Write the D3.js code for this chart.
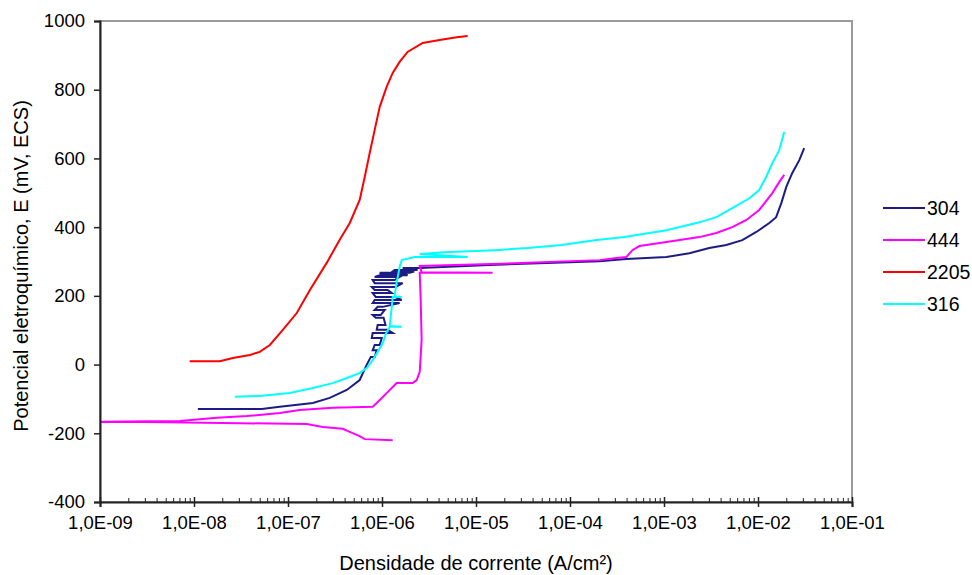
<!DOCTYPE html>
<html>
<head>
<meta charset="utf-8">
<script src="https://cdn.jsdelivr.net/npm/d3@7"></script>
<style>
  html, body { margin: 0; padding: 0; background: #ffffff; }
  svg { display: block; }
  text { font-family: "Liberation Sans", Arial, sans-serif; fill: #000; }
</style>
</head>
<body>
<svg id="chart" width="972" height="575"></svg>
<script>
// ---- DATA: [current density (A/cm²), potential (mV, ECS)] ----
const series304 = [
  [1.10e-8,-129],[5.27e-8,-129],[8.18e-8,-123],[1.84e-7,-112],[2.78e-7,-97],[4.22e-7,-74],[5.79e-7,-45],
  [6.87e-7,-1],[7.59e-7,22],[8.36e-7,22],[8.79e-7,42],[7.96e-7,42],[8.36e-7,57],[9.46e-7,57],
  [9.93e-7,77],[7.78e-7,77],[7.96e-7,92],[1.30e-6,92],[1.15e-6,101],[8.79e-7,101],[8.99e-7,115],
  [1.09e-6,115],[1.04e-6,136],[8.57e-7,136],[7.96e-7,144],[9.68e-7,144],[1.07e-6,159],[8.36e-7,159],
  [8.99e-7,168],[1.02e-6,168],[1.54e-6,179],[7.96e-7,179],[8.36e-7,188],[1.62e-6,188],[1.36e-6,197],
  [8.57e-7,197],[7.96e-7,208],[1.27e-6,208],[1.15e-6,217],[8.36e-7,217],[7.78e-7,226],[1.40e-6,226],
  [1.66e-6,237],[8.36e-7,237],[7.96e-7,246],[1.36e-6,246],[1.54e-6,255],[8.36e-7,255],[9.46e-7,260],
  [1.87e-6,260],[1.74e-6,264],[9.93e-7,264],[9.46e-7,267],[1.97e-6,267],[2.20e-6,271],[1.30e-6,271],
  [1.36e-6,275],[2.39e-6,275],[1.66e-6,281],[2.52e-6,281],
  [1.39e-5,290],[6.84e-5,296],[2.06e-4,301],[3.98e-4,307],[1.06e-3,313],[1.86e-3,324],
  [3.03e-3,339],[4.60e-3,348],[6.81e-3,362],[9.59e-3,386],[1.32e-2,412],[1.56e-2,429],[1.77e-2,470],
  [2.00e-2,517],[2.31e-2,557],[2.75e-2,595],[3.10e-2,630]
];
const series444 = [
  [1.30e-6,-220],[6.55e-7,-217],[5.79e-7,-208],[4.54e-7,-196],[3.82e-7,-187],[2.34e-7,-182],[1.58e-7,-173],
  [2.03e-8,-170],[3.16e-9,-167],[8.0e-10,-167],[3.2e-9,-165],[7.08e-9,-164],[1.75e-8,-155],[3.65e-8,-150],
  [8.18e-8,-141],[1.33e-7,-132],[2.99e-7,-126],[7.96e-7,-123],[8.79e-7,-112],[1.12e-6,-83],[1.43e-6,-54],
  [2.12e-6,-54],[2.34e-6,-45],[2.52e-6,-21],[2.64e-6,72],[2.58e-6,188],[2.52e-6,267],[1.50e-5,267],
  [2.64e-6,269],[2.52e-6,287],[3.53e-5,296],[2.06e-4,304],[3.12e-4,310],[3.98e-4,313],[4.61e-4,333],
  [5.48e-4,345],[1.06e-3,357],[2.38e-3,371],[3.61e-3,383],[5.33e-3,400],[7.52e-3,421],[1.03e-2,450],
  [1.42e-2,499],[1.68e-2,531],[1.90e-2,552]
];
const series2205 = [
  [9.0e-9,10],[1.88e-8,10],[2.59e-8,19],[3.93e-8,28],[5.01e-8,37],[6.41e-8,57],[8.81e-8,101],[1.24e-7,150],
  [1.71e-7,217],[2.58e-7,296],[3.55e-7,363],[4.54e-7,412],[5.79e-7,479],[6.55e-7,546],[7.40e-7,616],
  [8.36e-7,683],[9.46e-7,750],[1.12e-6,808],[1.30e-6,849],[1.54e-6,881],[1.87e-6,910],[2.71e-6,936],
  [4.10e-6,945],[6.22e-6,953],[8.15e-6,956]
];
const series316 = [
  [2.72e-8,-94],[5.27e-8,-91],[1.04e-7,-83],[1.84e-7,-68],[2.99e-7,-54],[4.22e-7,-39],[5.79e-7,-25],
  [6.87e-7,-10],[7.96e-7,13],[8.99e-7,37],[1.02e-6,63],[1.10e-6,90],[1.21e-6,110],[1.62e-6,110],
  [1.21e-6,112],[1.27e-6,167],[1.30e-6,197],[1.62e-6,197],[1.36e-6,199],[1.43e-6,238],[1.54e-6,284],
  [1.62e-6,304],[2.22e-6,313],[8.15e-6,313],[2.52e-6,322],[4.63e-6,327],[1.58e-5,333],[3.53e-5,339],
  [8.13e-5,348],[1.82e-4,362],[3.79e-4,371],[1.06e-3,391],[2.38e-3,414],[3.61e-3,429],[5.33e-3,455],
  [8.09e-3,484],[1.03e-2,508],[1.22e-2,546],[1.42e-2,586],[1.68e-2,624],[1.90e-2,677]
];
const seriesNames  = ["304", "444", "2205", "316"];
const seriesColors = ["#1c1c84", "#ff00ff", "#ff0000", "#00ffff"];
const yTicks = [-400, -200, 0, 200, 400, 600, 800, 1000];
const xTicks = [1e-9, 1e-8, 1e-7, 1e-6, 1e-5, 1e-4, 1e-3, 1e-2, 1e-1];
const xTickLabels = ["1,0E-09","1,0E-08","1,0E-07","1,0E-06","1,0E-05","1,0E-04","1,0E-03","1,0E-02","1,0E-01"];
const xTitle = "Densidade de corrente (A/cm²)";
const yTitle = "Potencial eletroquímico, E (mV, ECS)";

// ---- LAYOUT ----
const L = 100, R = 852, T = 21, B = 502;
const svg = d3.select("#chart");
const x = d3.scaleLog().domain([1e-9, 1e-1]).range([L, R]);
const y = d3.scaleLinear().domain([-400, 1000]).range([B, T]);

svg.append("defs").append("clipPath").attr("id", "plotclip")
  .append("rect").attr("x", L).attr("y", T).attr("width", R - L).attr("height", B - T);

// plot frame (gray, top/right)
svg.append("rect").attr("x", L).attr("y", T).attr("width", R - L).attr("height", B - T)
  .attr("fill", "none").attr("stroke", "#9a9a9a").attr("stroke-width", 2);

// series
const allSeries = [series304, series444, series2205, series316];
const line = d3.line().x(d => x(d[0])).y(d => y(d[1]));
const g = svg.append("g").attr("clip-path", "url(#plotclip)");
allSeries.forEach((s, i) => {
  g.append("path").datum(s).attr("d", line)
    .attr("fill", "none").attr("stroke", seriesColors[i]).attr("stroke-width", 2)
    .attr("stroke-linejoin", "miter");
});

const tickFont = "18.5px";
// y axis
const yAxis = svg.append("g").attr("transform", `translate(${L},0)`)
  .call(d3.axisLeft(y).tickValues(yTicks).tickSize(6).tickPadding(9).tickFormat(d => String(d)));
yAxis.select(".domain").attr("stroke", "#222").attr("stroke-width", 2);
yAxis.selectAll(".tick line").attr("stroke", "#222").attr("stroke-width", 1.5);
yAxis.selectAll("text").style("font-size", tickFont).style("font-family", "Liberation Sans, Arial, sans-serif");

// x axis minor ticks
const minorVals = [];
xTicks.slice(0, -1).forEach(t => { for (let k = 2; k <= 9; k++) minorVals.push(t * k); });
const xMinor = svg.append("g").attr("transform", `translate(0,${B})`)
  .call(d3.axisBottom(x).tickValues(minorVals).tickSize(-4).tickFormat(""));
xMinor.select(".domain").remove();
xMinor.selectAll(".tick line").attr("stroke", "#222").attr("stroke-width", 1);

// x axis major
const xAxis = svg.append("g").attr("transform", `translate(0,${B})`)
  .call(d3.axisBottom(x).tickValues(xTicks).tickSize(5).tickPadding(9)
    .tickFormat((d, i) => xTickLabels[i]));
xAxis.select(".domain").attr("stroke", "#222").attr("stroke-width", 2);
xAxis.selectAll(".tick line").attr("stroke", "#222").attr("stroke-width", 1.5).attr("y1", -5);
xAxis.selectAll("text").style("font-size", tickFont).style("font-family", "Liberation Sans, Arial, sans-serif");

// axis titles
svg.append("text").attr("x", 476).attr("y", 570).attr("text-anchor", "middle")
  .style("font-size", "20px").text(xTitle);
svg.append("text").attr("transform", "translate(28,266) rotate(-90)").attr("text-anchor", "middle")
  .style("font-size", "20px").text(yTitle);

// legend
const legendY = [208, 240, 272, 304];
const leg = svg.append("g");
seriesNames.forEach((n, i) => {
  leg.append("line").attr("x1", 883).attr("x2", 925).attr("y1", legendY[i]).attr("y2", legendY[i])
    .attr("stroke", seriesColors[i]).attr("stroke-width", 2);
  leg.append("text").attr("x", 927).attr("y", legendY[i] + 7)
    .style("font-size", "19.5px").text(n);
});
</script>
</body>
</html>
